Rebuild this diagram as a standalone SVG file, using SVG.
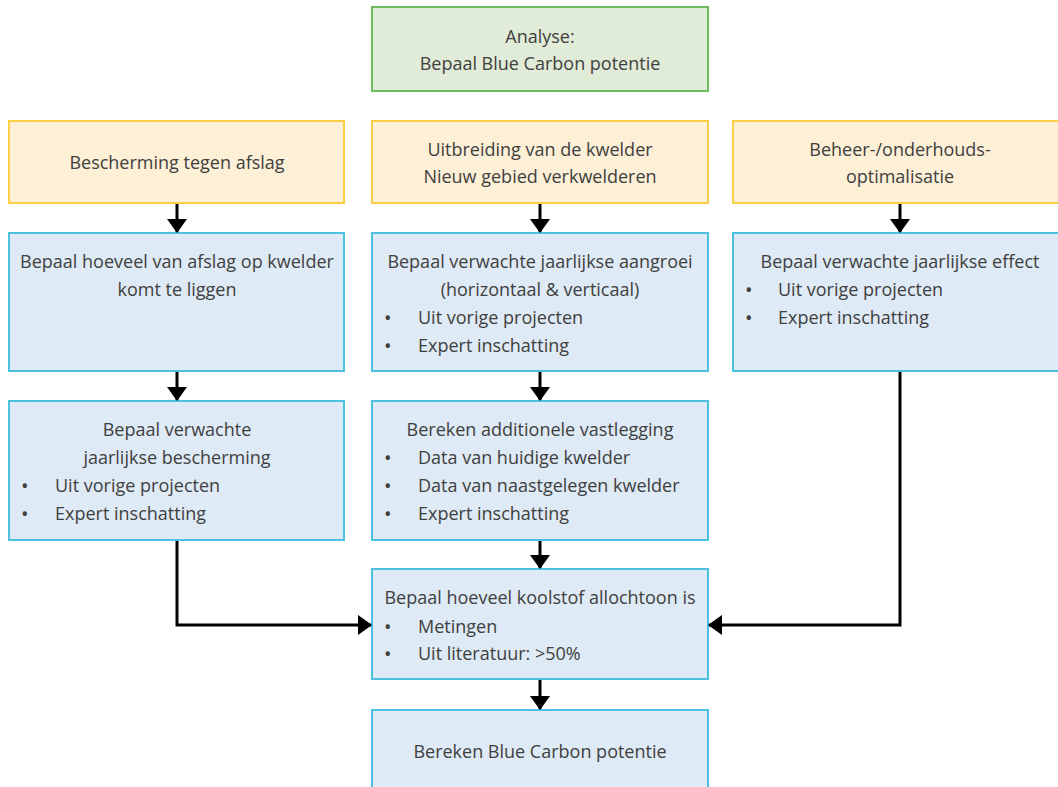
<svg xmlns="http://www.w3.org/2000/svg" width="1058" height="787" viewBox="0 0 1058 787">
<style>
text{font-family:"Open Sans","Noto Sans","DejaVu Sans",sans-serif;font-size:18px;fill:#404040}
.c{text-anchor:middle}
.d{font-size:20px}
.g{fill:#e0ebd8;stroke:#6dbb5e;stroke-width:2}
.o{fill:#fdf0d6;stroke:#fbcf45;stroke-width:2}
.b{fill:#deeaf5;stroke:#4cc2e0;stroke-width:2}
.e{fill:none;stroke:#000;stroke-width:3}
</style>
<defs>
<marker id="ah" markerUnits="userSpaceOnUse" markerWidth="14" markerHeight="20" refX="13" refY="10" orient="auto">
<path d="M0,0 L14,10 L0,20 z" fill="#000"/>
</marker>
</defs>
<rect width="1058" height="787" fill="#fff"/>
<g id="analyse">
<rect class="g" x="372" y="7" width="336" height="84"/>
<text class="c" x="540" y="43">Analyse:</text>
<text class="c" x="540" y="70">Bepaal Blue Carbon potentie</text>
</g>
<g id="bescherming">
<rect class="o" x="9" y="121" width="335" height="82"/>
<text class="c" x="177" y="169">Bescherming tegen afslag</text>
</g>
<g id="uitbreiding">
<rect class="o" x="372" y="121" width="336" height="82"/>
<text class="c" x="540" y="156">Uitbreiding van de kwelder</text>
<text class="c" x="540" y="183">Nieuw gebied verkwelderen</text>
</g>
<g id="beheer">
<rect class="o" x="733" y="121" width="336" height="82"/>
<text class="c" x="900" y="156">Beheer-/onderhouds-</text>
<text class="c" x="900" y="183">optimalisatie</text>
</g>
<g id="afslag">
<rect class="b" x="9" y="233" width="335" height="138"/>
<text class="c" x="177" y="268">Bepaal hoeveel van afslag op kwelder</text>
<text class="c" x="177" y="296">komt te liggen</text>
</g>
<g id="aangroei">
<rect class="b" x="372" y="233" width="336" height="138"/>
<text class="c" x="540" y="268">Bepaal verwachte jaarlijkse aangroei</text>
<text class="c" x="540" y="296">(horizontaal &amp; verticaal)</text>
<text class="d" x="384" y="325">•</text><text x="418" y="324">Uit vorige projecten</text>
<text class="d" x="384" y="353">•</text><text x="418" y="352">Expert inschatting</text>
</g>
<g id="effect">
<rect class="b" x="733" y="233" width="336" height="138"/>
<text class="c" x="900" y="268">Bepaal verwachte jaarlijkse effect</text>
<text class="d" x="745" y="297">•</text><text x="778" y="296">Uit vorige projecten</text>
<text class="d" x="745" y="325">•</text><text x="778" y="324">Expert inschatting</text>
</g>
<g id="jaarlijkse-bescherming">
<rect class="b" x="9" y="401" width="335" height="139"/>
<text class="c" x="177" y="436">Bepaal verwachte</text>
<text class="c" x="177" y="464">jaarlijkse bescherming</text>
<text class="d" x="21" y="493">•</text><text x="55" y="492">Uit vorige projecten</text>
<text class="d" x="21" y="521">•</text><text x="55" y="520">Expert inschatting</text>
</g>
<g id="vastlegging">
<rect class="b" x="372" y="401" width="336" height="139"/>
<text class="c" x="540" y="436">Bereken additionele vastlegging</text>
<text class="d" x="384" y="465">•</text><text x="418" y="464">Data van huidige kwelder</text>
<text class="d" x="384" y="493">•</text><text x="418" y="492">Data van naastgelegen kwelder</text>
<text class="d" x="384" y="521">•</text><text x="418" y="520">Expert inschatting</text>
</g>
<g id="allochtoon">
<rect class="b" x="372" y="569" width="336" height="110"/>
<text class="c" x="540" y="604">Bepaal hoeveel koolstof allochtoon is</text>
<text class="d" x="384" y="634">•</text><text x="418" y="633">Metingen</text>
<text class="d" x="384" y="661">•</text><text x="418" y="660">Uit literatuur: &gt;50%</text>
</g>
<g id="potentie">
<rect class="b" x="372" y="710" width="336" height="84"/>
<text class="c" x="540" y="758">Bereken Blue Carbon potentie</text>
</g>
<g id="connectors">
<path class="e" marker-end="url(#ah)" d="M177,204 V232"/>
<path class="e" marker-end="url(#ah)" d="M540,204 V232"/>
<path class="e" marker-end="url(#ah)" d="M900,204 V232"/>
<path class="e" marker-end="url(#ah)" d="M177,372 V400"/>
<path class="e" marker-end="url(#ah)" d="M540,372 V400"/>
<path class="e" marker-end="url(#ah)" d="M540,541 V568"/>
<path class="e" marker-end="url(#ah)" d="M540,680 V709"/>
<path class="e" marker-end="url(#ah)" d="M177,541 V625 H371"/>
<path class="e" marker-end="url(#ah)" d="M900,372 V625 H709"/>
</g>
</svg>
